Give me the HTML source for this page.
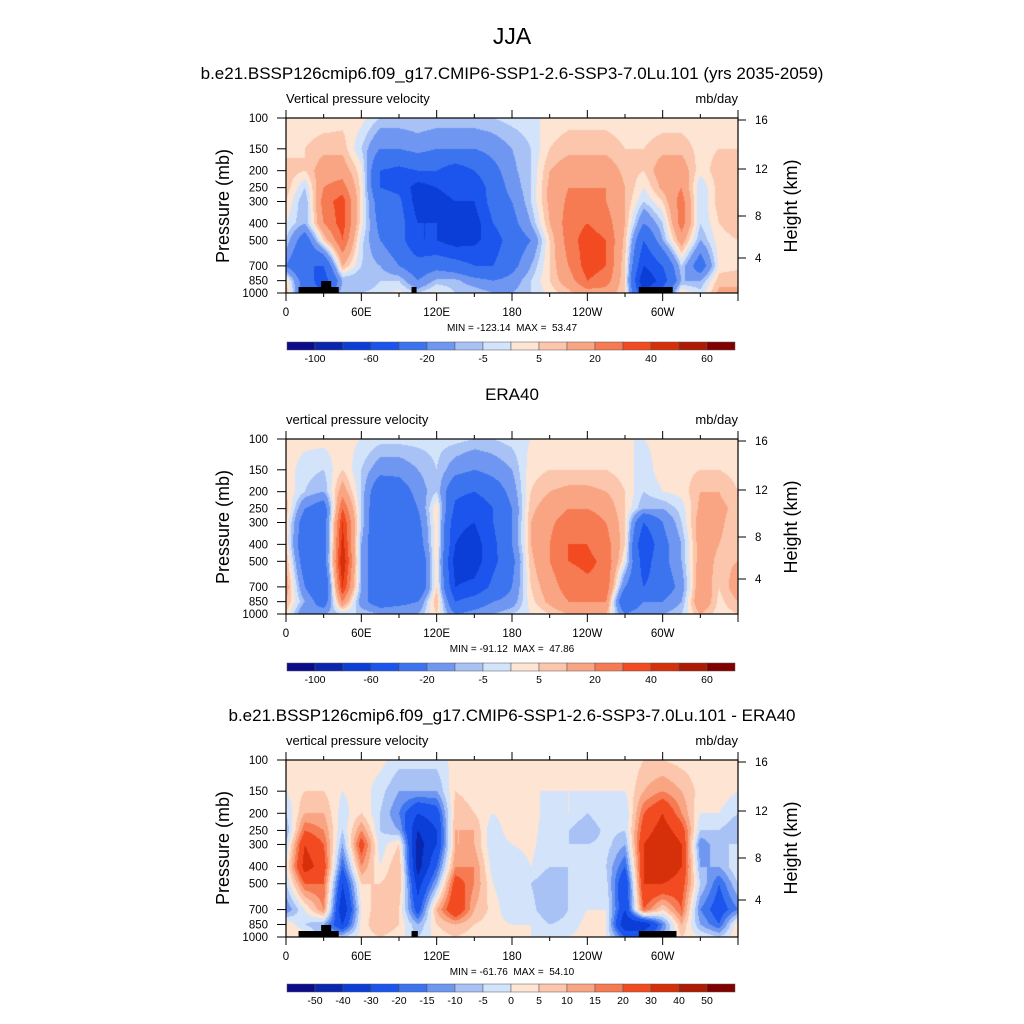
<!DOCTYPE html>
<html><head><meta charset="utf-8">
<style>
body{margin:0;background:#fff;}
#wrap{position:relative;width:1024px;height:1024px;overflow:hidden;font-family:"Liberation Sans",sans-serif;}
canvas{position:absolute;}
svg{position:absolute;left:0;top:0;}
text{white-space:pre;}
</style></head>
<body>
<div id="wrap">
<canvas id="c0" width="452" height="175" style="left:286px;top:118px"></canvas>
<canvas id="c1" width="452" height="175" style="left:286px;top:439px"></canvas>
<canvas id="c2" width="452" height="177" style="left:286px;top:760px"></canvas>
<svg id="svg" width="1024" height="1024" xmlns="http://www.w3.org/2000/svg">
<text x="512" y="44" font-size="23" text-anchor="middle">JJA</text>
<text x="512" y="79" font-size="17" text-anchor="middle">b.e21.BSSP126cmip6.f09_g17.CMIP6-SSP1-2.6-SSP3-7.0Lu.101 (yrs 2035-2059)</text>
<text x="512" y="400" font-size="17" text-anchor="middle">ERA40</text>
<text x="512" y="721" font-size="17" text-anchor="middle">b.e21.BSSP126cmip6.f09_g17.CMIP6-SSP1-2.6-SSP3-7.0Lu.101 - ERA40</text>
</svg>
</div>
<script>
const pressures=[100,150,200,250,300,400,500,700,850,1000];
const lons=[0,15,30,45,60,75,90,105,120,135,150,165,180,195,210,225,240,255,270,285,300,315,330,345,360];
const levelsAbs=[-100,-80,-60,-40,-20,-10,-5,0,5,10,20,30,40,50,60];
const levelsDiff=[-50,-40,-30,-20,-15,-10,-5,0,5,10,15,20,30,40,50];
const labelsAbs=["-100","","-60","","-20","","-5","","5","","20","","40","","60"];
const labelsDiff=["-50","-40","-30","-20","-15","-10","-5","0","5","10","15","20","30","40","50"];
const colors=["#0c0c8a","#0a26ad","#0a3ed6","#1c55ee","#3c74ef","#6f97f2","#a8c2f6","#d3e4fa","#fde4d3","#fbc6ab","#f9a584","#f67b52","#f24b22","#d6300a","#ae1a02","#800000"];
const model=[
[2,3,8,8,5,0,-5,-20,5,10],[2,5,5,-5,-10,-10,-30,-40,-30,-30],[2,8,15,20,25,20,5,-40,-50,-40],
[3,8,15,25,35,35,30,10,-10,-5],[2,-5,2,3,3,2,-3,-5,-10,-5],[-5,-20,-40,-40,-30,-25,-20,-10,-5,-3],
[-5,-20,-45,-45,-35,-30,-30,-20,-5,2],[-5,-15,-40,-70,-70,-60,-60,-30,-20,-5],[-5,-20,-40,-60,-65,-60,-60,-25,-8,2],
[-5,-20,-50,-55,-60,-70,-70,-30,-8,-5],[-5,-20,-40,-55,-60,-70,-65,-40,-15,-5],[-5,-15,-25,-30,-30,-40,-50,-40,-20,-10],
[-3,-10,-12,-15,-20,-25,-30,-25,-15,-10],[-2,-5,-5,-5,-5,-10,-20,-10,-5,-5],[2,5,10,12,12,10,5,5,5,2],
[3,8,15,20,22,25,25,20,15,8],[3,8,15,20,22,30,35,35,30,15],[3,8,15,20,20,25,30,30,25,15],
[2,5,8,10,10,10,8,5,5,5],[2,5,5,0,-5,-20,-40,-60,-80,-60],[2,8,15,12,5,-5,-10,-40,-50,-30],
[2,8,15,20,25,25,15,-5,-10,5],[2,3,2,-5,-5,-5,-10,-30,-10,-3],[2,5,8,8,8,5,3,2,8,12],[2,5,10,10,10,8,5,3,10,10]];
const era=[
[2,3,5,8,5,5,10,15,10,5],[2,-3,-5,-20,-30,-35,-30,-20,-10,-20],[2,-5,-10,-30,-30,-30,-30,-40,-30,-10],
[2,5,15,30,40,45,50,40,20,-5],[0,-5,-5,-5,-5,-10,-10,-10,-15,-5],[-3,-15,-35,-40,-40,-40,-40,-40,-30,-10],
[-3,-15,-30,-35,-35,-40,-40,-35,-25,-10],[-3,-10,-15,-20,-25,-30,-40,-40,-20,-10],[-3,-5,-5,5,5,5,5,5,10,5],
[-3,-15,-35,-45,-55,-60,-70,-60,-40,-20],[-5,-20,-40,-55,-60,-70,-70,-55,-30,-15],[-5,-15,-30,-40,-40,-45,-45,-35,-20,-10],
[-3,-10,-15,-20,-20,-20,-25,-20,-15,-5],[0,3,5,8,10,10,8,5,3,0],[2,5,10,15,18,20,20,15,12,5],
[2,5,12,20,25,30,30,25,20,10],[2,5,12,20,28,30,32,28,20,10],[2,5,10,15,20,25,28,28,20,10],
[0,3,5,5,5,5,0,-20,-40,-20],[0,-3,-5,-10,-40,-60,-50,-40,-20,-10],[2,3,0,-10,-20,-25,-25,-30,-20,-10],
[2,3,2,-3,-5,-10,-10,-15,-10,-5],[2,5,10,12,15,15,15,18,20,10],[2,5,10,12,12,10,8,5,3,2],[2,3,5,8,5,5,10,15,10,5]];
const diff=[
[2,0,-5,-10,-5,0,-5,-15,5,5],[2,5,10,20,30,35,20,0,-5,5],[2,5,10,15,20,25,20,15,-10,-10],
[2,0,-3,-5,-10,-20,-30,-40,-30,-5],[2,3,5,15,25,15,5,0,2,2],[2,-3,-5,-5,-3,0,5,10,10,5],
[-3,-10,-15,-10,5,10,10,5,5,2],[-3,-10,-30,-40,-45,-45,-35,-25,-10,-5],[-3,-10,-25,-30,-30,-20,-10,10,5,2],
[2,5,8,10,10,15,25,30,10,5],[0,3,5,10,10,15,15,10,5,2],[2,3,0,-5,-5,-3,0,3,2,0],
[2,5,5,5,0,-5,-5,-5,0,2],[0,0,3,3,2,0,-5,-3,0,0],[0,0,-3,-5,-5,-5,-10,-10,-5,0],
[0,0,0,-5,-5,-5,-5,-5,-3,0],[0,0,-5,-10,-5,-3,-3,0,2,2],[0,0,0,-3,-3,-5,-3,0,0,0],
[0,0,-5,-5,-10,-20,-30,-30,-40,-20],[5,10,20,25,30,30,30,20,-40,-20],[5,15,30,35,40,40,30,5,-15,-10],
[3,10,15,25,30,30,25,20,10,5],[2,3,0,-5,-15,-10,-5,-15,-10,0],[2,3,0,-5,-5,-10,-20,-25,-20,-5],[2,0,-5,-10,-5,0,-5,-15,5,5]];
const pressTicks=[100,150,200,250,300,400,500,700,850,1000];
const lonTickVals=[0,60,120,180,240,300];
const lonTickLabels=["0","60E","120E","180","120W","60W"];
const kmTicks=[16,12,8,4];
const kmOffsets=[2,51,98,140];
const minmax=["MIN = -123.14  MAX =  53.47","MIN = -91.12  MAX =  47.86","MIN = -61.76  MAX =  54.10"];
const units=["Vertical pressure velocity","vertical pressure velocity","vertical pressure velocity"];
const landBars=[[10,42,1],[28,36,2],[100,104,1],[281,308,1]];
const landBars3=[[10,42,1],[28,36,2],[100,105,1],[281,311,1]];

const PX=286,PW=452;
const tops=[118,439,760],hts=[175,175,177];
function xOf(lon){return PX+lon/360*PW;}
function yOf(p,top,h){return top+Math.log(p/100)/Math.log(10)*h;}
function interp(data,lon,p){
  let i=Math.min(Math.floor(lon/15),23);let fx=(lon-lons[i])/15;
  let j=0;while(j<8&&p>pressures[j+1])j++;
  let fy=(Math.log(p)-Math.log(pressures[j]))/(Math.log(pressures[j+1])-Math.log(pressures[j]));
  fy=Math.max(0,Math.min(1,fy));
  const a=data[i][j],b=data[i+1][j],c=data[i][j+1],d=data[i+1][j+1];
  return (a*(1-fx)+b*fx)*(1-fy)+(c*(1-fx)+d*fx)*fy;
}
function colorFor(v,lev){let k=0;while(k<lev.length&&v>=lev[k])k++;return colors[k];}
function drawPanel(id,data,lev,h){
  const ctx=document.getElementById(id).getContext('2d');
  for(let px=0;px<PW;px++){
    const lon=(px+0.5)/PW*360;
    for(let py=0;py<h;py++){
      const p=100*Math.pow(10,(py+0.5)/h);
      ctx.fillStyle=colorFor(interp(data,lon,p),lev);
      ctx.fillRect(px,py,1,1);
    }
  }
}
drawPanel('c0',model,levelsAbs,175);
drawPanel('c1',era,levelsAbs,175);
drawPanel('c2',diff,levelsDiff,177);

const svg=document.getElementById('svg');const NS="http://www.w3.org/2000/svg";
function el(tag,attrs,parent){const e=document.createElementNS(NS,tag);for(const k in attrs)e.setAttribute(k,attrs[k]);(parent||svg).appendChild(e);return e;}
function txt(x,y,s,size,anchor,name,extra){const t=el('text',Object.assign({x:x,y:y,'font-size':size,'text-anchor':anchor||'start'},extra||{}));t.textContent=s;


return t;}

for(let k=0;k<3;k++){
  const top=tops[k],h=hts[k],bot=top+h;
  const g=el('g',{});
  
  
  const bars=k===2?landBars3:(k===0?landBars:[]);
  bars.forEach(b=>{const r=el('rect',{x:xOf(b[0]),y:bot-6*b[2],width:xOf(b[1])-xOf(b[0]),height:6*b[2],fill:'#000'},g);
    
    });
  el('rect',{x:PX,y:top,width:PW,height:h,fill:'none',stroke:'#000','stroke-width':1.2},g);
  pressTicks.forEach(p=>{const y=yOf(p,top,h);el('line',{x1:PX-9,x2:PX,y1:y,y2:y,stroke:'#000'},g);
    txt(268,y+4,String(p),11.5,'end','pressure-tick-label');});
  for(let lon=0;lon<=360;lon+=30){const x=xOf(lon);const L=lon%60===0?8:4;
    el('line',{x1:x,x2:x,y1:bot,y2:bot+L,stroke:'#000'},g);el('line',{x1:x,x2:x,y1:top,y2:top-L,stroke:'#000'},g);}
  lonTickVals.forEach((v,i)=>txt(xOf(v),bot+23,lonTickLabels[i],11.5,'middle','lon-tick-label'));
  kmTicks.forEach((km,i)=>{const y=top+kmOffsets[i];el('line',{x1:PX+PW,x2:PX+PW+8,y1:y,y2:y,stroke:'#000'},g);
    txt(755,y+4,String(km),11.5,'start','height-tick-label');});
  txt(286,top-15,units[k],13,'start','variable-label');
  txt(738,top-15,'mb/day',13,'end','units-label');
  txt(0,0,'Pressure (mb)',18,'middle','y-axis-title',{transform:'translate(229,'+(top+88)+') rotate(-90)'});
  txt(0,0,'Height (km)',18,'middle','right-axis-title',{transform:'translate(797,'+(top+88)+') rotate(-90)'});
  txt(512,bot+38,minmax[k],10,'middle','min-max-label');
  const cy=top+224,lev=k===2?levelsDiff:levelsAbs,labs=k===2?labelsDiff:labelsAbs;
  const bw=448/16;
  colors.forEach((c,i)=>{const r=el('rect',{x:287+i*bw,y:cy,width:bw,height:8,fill:c,stroke:'#555','stroke-width':0.5},g);
    
    });
  lev.forEach((v,i)=>{if(labs[i])txt(287+(i+1)*bw,cy+20,labs[i],10.5,'middle','colorbar-label');});
}
</script>
</body></html>
